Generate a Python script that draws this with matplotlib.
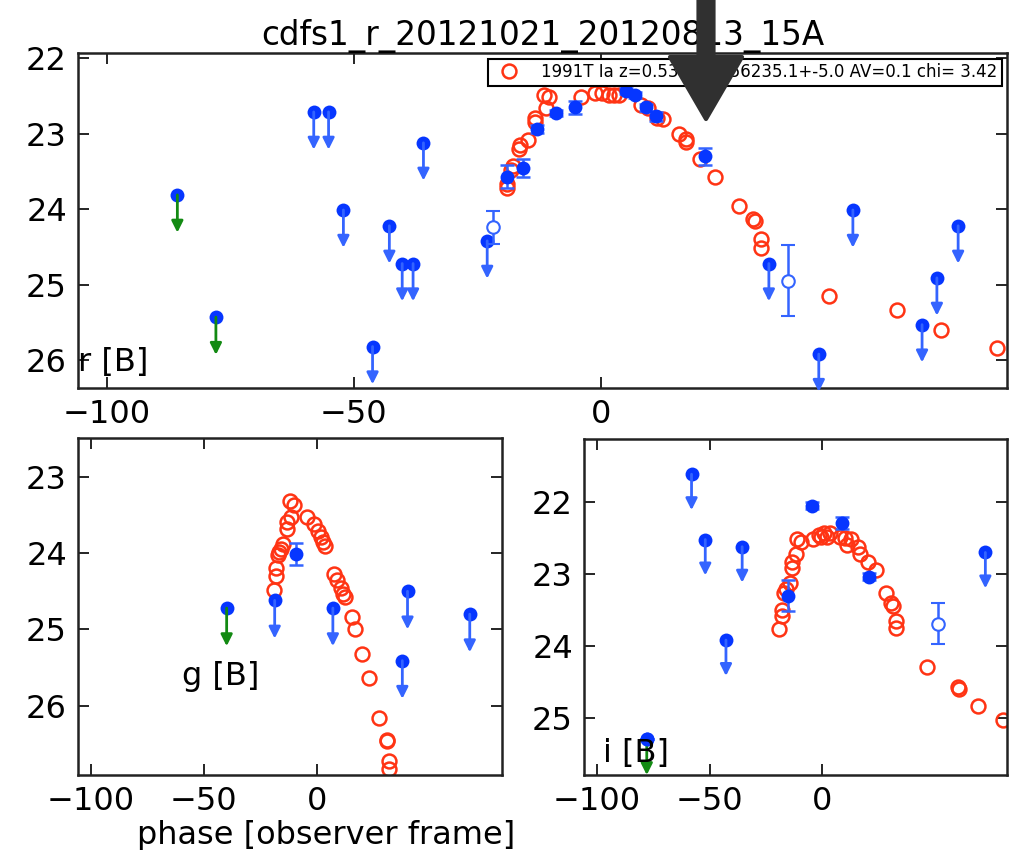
import matplotlib
matplotlib.use('Agg')
import matplotlib.pyplot as plt
from matplotlib.patches import FancyArrow

# ---- r band ----
r_model_phase = [-19.0, -19.0, -18.1, -17.8, -16.5, -16.4, -14.7, -13.4, -13.3, -11.2, -11.5, -10.4,
                 -4.1, -1.1, 0.2, 1.6, 2.7, 3.7, 8.2, 9.6, 11.3, 12.6, 15.8, 17.2, 17.2, 20.0, 23.1,
                 28.0, 30.7, 31.1, 32.5, 32.5, 46.1, 60.0, 68.8, 80.1]
r_model_mag = [23.72, 23.67, 23.48, 23.43, 23.20, 23.15, 23.08, 22.85, 22.79, 22.66, 22.48, 22.51,
               22.51, 22.46, 22.46, 22.48, 22.48, 22.48, 22.62, 22.66, 22.79, 22.80, 23.00, 23.07, 23.11,
               23.34, 23.57, 23.96, 24.13, 24.16, 24.40, 24.52, 25.15, 25.34, 25.60, 25.84]
r_det_phase = [-19.0, -15.7, -12.9, -9.1, -5.2, 5.0, 7.0, 9.1, 11.2, 21.0]
r_det_mag = [23.57, 23.45, 22.94, 22.73, 22.65, 22.43, 22.48, 22.65, 22.77, 23.30]
r_det_err = [0.15, 0.12, 0.05, 0.04, 0.09, 0.04, 0.04, 0.05, 0.06, 0.11]
r_open_phase = [-21.9, 37.9]
r_open_mag = [24.24, 24.95]
r_open_err = [0.22, 0.47]
r_lim_phase = [-58.1, -55.1, -52.1, -46.2, -42.8, -40.2, -38.0, -35.9, -23.0,
               34.0, 44.1, 51.0, 65.0, 68.0, 72.3]
r_lim_mag = [22.71, 22.71, 24.01, 25.82, 24.22, 24.72, 24.72, 23.12, 24.42,
             24.72, 25.92, 24.01, 25.53, 24.91, 24.22]
r_glim_phase = [-85.7, -77.9]
r_glim_mag = [23.81, 25.43]

# ---- g band ----
g_model_phase = [-19.0, -17.9, -17.8, -17.2, -16.7, -16.0, -14.8, -13.3, -13.0, -11.2, -11.8, -10.1,
                 -4.1, -1.2, 0.6, 1.8, 3.0, 3.6, 7.7, 9.2, 10.7, 11.8, 12.4, 15.8, 17.0, 20.3, 23.2,
                 27.7, 31.1, 31.2, 32.1, 32.1]
g_model_mag = [24.48, 24.30, 24.20, 24.03, 23.98, 23.95, 23.88, 23.68, 23.59, 23.52, 23.31, 23.37,
               23.53, 23.62, 23.71, 23.79, 23.85, 23.90, 24.27, 24.35, 24.46, 24.54, 24.57, 24.84, 25.00,
               25.32, 25.64, 26.16, 26.45, 26.46, 26.72, 26.83]
g_det_phase = [-9.0]
g_det_mag = [24.01]
g_det_err = [0.14]
g_lim_phase = [-18.6, 7.2, 40.3, 38.0, 67.9]
g_lim_mag = [24.62, 24.72, 24.50, 25.41, 24.80]
g_glim_phase = [-39.9]
g_glim_mag = [24.72]

# ---- i band ----
i_model_phase = [-19.2, -17.9, -17.7, -16.7, -15.9, -14.4, -13.2, -13.2, -11.4, -11.2, -9.5,
                 -4.0, -1.3, -0.3, 0.8, 2.2, 3.7, 8.2, 10.1, 11.3, 12.7, 16.1, 17.1, 20.5, 24.0,
                 28.4, 30.5, 31.4, 32.9, 32.9, 46.6, 60.4, 60.7, 69.4, 80.4]
i_model_mag = [23.77, 23.59, 23.50, 23.27, 23.21, 23.13, 22.92, 22.83, 22.72, 22.51, 22.56,
               22.51, 22.46, 22.48, 22.43, 22.49, 22.43, 22.48, 22.50, 22.59, 22.51, 22.63, 22.72,
               22.83, 22.95, 23.27, 23.41, 23.45, 23.66, 23.75, 24.29, 24.57, 24.60, 24.84, 25.03]
i_det_phase = [-15.2, -4.5, 9.1, 21.0, -77.9]
i_det_mag = [23.30, 22.05, 22.29, 23.04, 25.30]
i_det_err = [0.21, 0.05, 0.09, 0.05, 0.0]
i_open_phase = [51.5]
i_open_mag = [23.69]
i_open_err = [0.28]
i_lim_phase = [-58.0, -51.9, -35.5, -42.7, 72.6]
i_lim_mag = [21.61, 22.52, 22.62, 23.92, 22.70]
i_glim_phase = [-77.9]
i_glim_mag = [25.30]

legend_text = '1991T Ia z=0.53 MJD=56235.1+-5.0 AV=0.1 chi= 3.42'
title_text = 'cdfs1_r_20121021_20120813_15A'

BLUE = '#0636ff'
ARROW_BLUE = '#3464ff'
RED = '#ff3414'
GREEN = '#138a13'
LIM_LEN = 0.5


def draw_limits(ax, xs, ys, col):
    for x, y in zip(xs, ys):
        ax.annotate('', xy=(x, y + LIM_LEN), xytext=(x, y), annotation_clip=False,
                    arrowprops=dict(arrowstyle='-|>', color=col, lw=2, mutation_scale=17,
                                    shrinkA=0, shrinkB=0))
    ax.plot(xs, ys, 'o', color=BLUE, ms=10, mec='none')


def panel(ax, mp, mm, dp, dm, de, op, om, oe, lp, lm, gp, gm, ylim, yticks):
    ax.plot(mp, mm, 'o', mfc='none', mec=RED, ms=10, mew=1.8, label=legend_text, zorder=2)
    draw_limits(ax, gp, gm, GREEN)
    draw_limits(ax, lp, lm, ARROW_BLUE)
    ax.errorbar(dp, dm, yerr=de, fmt='o', color=BLUE, ecolor=ARROW_BLUE, ms=10, mec='none',
                capsize=5, elinewidth=1.8, capthick=1.8, zorder=3)
    if op:
        ax.errorbar(op, om, yerr=oe, fmt='o', mfc='white', mec=ARROW_BLUE, ecolor=ARROW_BLUE,
                    ms=9, mew=1.5, capsize=5, elinewidth=1.8, capthick=1.8, zorder=3)
    ax.set_xlim(-105.8, 82.2)
    ax.set_ylim(*ylim)
    ax.set_xticks([-100, -50, 0])
    ax.set_yticks(yticks)
    ax.tick_params(direction='in', length=8, width=1.2, top=True, right=True,
                   labelsize=23, pad=8)
    for s in ax.spines.values():
        s.set_linewidth(1.8)
        s.set_color('#222222')


fig = plt.figure(figsize=(10.16, 8.5), dpi=100)
ax_r = fig.add_axes([0.0768, 0.5435, 0.9144, 0.3941])
ax_g = fig.add_axes([0.0768, 0.0882, 0.4173, 0.3965])
ax_i = fig.add_axes([0.5748, 0.0882, 0.4163, 0.3953])

panel(ax_r, r_model_phase, r_model_mag, r_det_phase, r_det_mag, r_det_err,
      r_open_phase, r_open_mag, r_open_err, r_lim_phase, r_lim_mag,
      r_glim_phase, r_glim_mag, (26.37, 21.93), [22, 23, 24, 25, 26])
panel(ax_g, g_model_phase, g_model_mag, g_det_phase, g_det_mag, g_det_err,
      [], [], [], g_lim_phase, g_lim_mag, g_glim_phase, g_glim_mag,
      (26.91, 22.49), [23, 24, 25, 26])
panel(ax_i, i_model_phase, i_model_mag, i_det_phase, i_det_mag, i_det_err,
      i_open_phase, i_open_mag, i_open_err, i_lim_phase, i_lim_mag,
      i_glim_phase, i_glim_mag, (25.80, 21.12), [22, 23, 24, 25])

leg = ax_r.legend(loc='upper right', numpoints=1, fontsize=12, fancybox=False,
                  framealpha=1, edgecolor='black', borderaxespad=0.33, borderpad=0.28,
                  handletextpad=0.9)
leg.get_frame().set_linewidth(1.5)
leg.set_zorder(5)

ax_r.set_title(title_text, fontsize=23.5, pad=6)
ax_r.text(0.0, 0.05, 'r [B]', transform=ax_r.transAxes, fontsize=23, va='baseline', zorder=6)
ax_g.text(0.245, 0.267, 'g [B]', transform=ax_g.transAxes, fontsize=23, va='baseline', zorder=6)
ax_i.text(0.046, 0.04, 'i [B]', transform=ax_i.transAxes, fontsize=23, va='baseline', zorder=6)
ax_g.set_xlabel('phase [observer frame]', fontsize=23, x=0.585, labelpad=2)

# big pointer arrow overlaid on the figure
arrow = FancyArrow(7.06, 8.7, 0, -1.39, width=0.15, head_width=0.72, head_length=0.62,
                   length_includes_head=True, color='#303030', lw=3, joinstyle='round',
                   transform=fig.dpi_scale_trans, zorder=20)
fig.add_artist(arrow)

fig.savefig('out.png', dpi=100)
